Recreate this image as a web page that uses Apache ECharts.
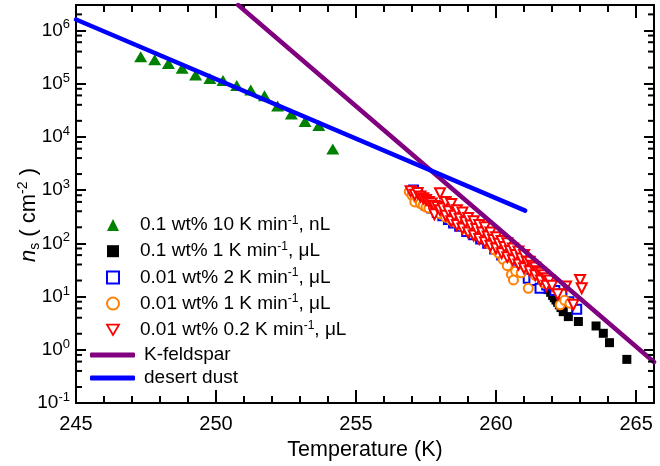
<!DOCTYPE html>
<html><head><meta charset="utf-8">
<script src="https://cdn.jsdelivr.net/npm/echarts@6/dist/echarts.min.js"></script>
<style>html,body{margin:0;padding:0;background:#fff}#c{width:660px;height:466px}</style>
</head><body><div id="c"></div><script>
// axis ranges
const xMin = 245, xMax = 265.64, yMin = 0.1, yMax = 3e6;
const yMinorTicks = [0.2,0.4,0.6,0.8, 2,4,6,8, 20,40,60,80, 200,400,600,800,
  2e3,4e3,6e3,8e3, 2e4,4e4,6e4,8e4, 2e5,4e5,6e5,8e5, 2e6];

// data: [Temperature (K), n_s (cm^-2)]
const nL10K = [[247.31,3.2e5],[247.81,2.8e5],[248.30,2.4e5],[248.79,1.95e5],[249.27,1.46e5],
  [249.78,1.25e5],[250.25,1.14e5],[250.74,9.2e4],[251.24,7.6e4],[251.73,5.9e4],[252.20,3.8e4],
  [252.69,2.7e4],[253.18,1.95e4],[253.67,1.63e4],[254.17,5.9e3]];
const uL1K_01 = [[261.0,35],[261.2,28],[261.4,24],[261.55,21],[261.65,18],[261.75,15.5],[261.85,13.5],
  [261.95,12],[262.02,10.5],[262.08,9.5],[262.14,8.6],[262.2,7.8],[262.26,7.0],[262.32,6.2],[262.40,5.2],
  [262.58,4.2],[262.94,3.4],[263.57,2.8],[263.83,2.04],[264.05,1.36],[264.67,0.66]];
const uL2K = [[257.05,1000],[257.2,820],[257.3,700],[257.5,525],[257.7,460],[257.9,380],[258.1,330],[258.3,280],
  [258.48,240],[258.7,210],[258.95,166],[259.2,145],[259.45,120],[259.7,100],[259.95,78],[260.2,60],
  [260.5,45],[260.68,36.5],[260.85,35],[261.04,29],[261.15,22],[261.35,20],[261.57,14.3],[261.81,16.5],
  [261.93,20.5],[262.1,13],[262.35,11.2],[262.6,8],[262.88,5.8]];
const uL1K = [[256.9,940],[257.0,800],[257.1,600],[257.2,700],[257.3,560],[257.4,520],[257.5,480],[257.6,460],
  [257.8,420],[258.0,360],[258.2,310],[258.4,270],[258.6,240],[258.8,210],[259.0,180],[259.2,160],[259.4,140],
  [259.6,125],[259.8,95],[259.95,75],[260.1,65],[260.25,50],[260.4,38],[260.55,26],[260.62,20.5],
  [260.7,30],[260.9,28],[261.15,14.3],[261.4,25],[261.7,18],[261.95,20],[262.29,7],[262.45,8.5],[262.64,7.5]];
const uL02K = [[256.95,950],[257.1,820],[257.2,880],[257.3,760],[257.4,700],[257.5,650],[257.6,600],
  [257.7,560],[257.8,500],[257.8,350],[257.9,480],[258.0,870],[258.0,420],[258.1,450],[258.2,600],[258.2,330],
  [258.3,400],[258.4,550],[258.4,260],[258.5,330],[258.6,420],[258.6,220],[258.7,290],[258.8,380],
  [258.8,190],[258.9,250],[259.0,300],[259.0,160],[259.1,215],[259.2,260],[259.2,140],[259.3,185],
  [259.4,220],[259.4,120],[259.5,160],[259.6,200],[259.6,105],[259.7,135],[259.8,160],[259.8,90],
  [259.9,115],[260.0,130],[260.0,80],[260.1,98],[260.2,110],[260.2,65],[260.3,85],[260.4,100],[260.4,55],
  [260.5,72],[260.6,80],[260.6,48],[260.7,60],[260.8,70],[260.8,40],[260.9,52],[261.0,60],[261.0,34],
  [261.1,45],[261.2,45],[261.2,30],[261.3,38],[261.4,35],[261.4,25],[261.5,30],[261.6,28],[261.6,20],
  [261.7,25],[261.8,22],[261.8,16],[261.9,20],[262.0,16],[262.2,11],[262.5,15.4],[262.76,7],[263.0,20.5],[263.06,14.3]];
const kFeldspar = [[250.79,3.0e6],[265.64,0.59]];
const desertDust = [[245,1.6e6],[261.04,410]];

const scatterNames = ['0.1 wt% 10 K min-1, nL','0.1 wt% 1 K min-1, μL','0.01 wt% 2 K min-1, μL',
  '0.01 wt% 1 K min-1, μL','0.01 wt% 0.2 K min-1, μL'];
const lineNames = ['K-feldspar','desert dust'];
const colors = {green:'#008000', black:'#000000', blue:'#0000ff', orange:'#ff8000', red:'#ff0000',
  purple:'#800080', dust:'#0000ff'};

const FONT = '"Liberation Sans", Arial, sans-serif';
const chart = echarts.init(document.getElementById('c'), null, {renderer:'canvas'});

function xAxisDef(pos, interval, len, withLabel){
  return {
    type:'value', position:pos, min:xMin, max:xMax, interval:interval,
    axisLine:{show:true, onZero:false, lineStyle:{color:'#000', width:2}},
    axisTick:{show:true, inside:true, length:len, lineStyle:{color:'#000', width:2}},
    splitLine:{show:false},
    axisLabel: withLabel ? {show:true, color:'#000', fontSize:20, fontFamily:FONT, margin:11,
      formatter: v => (Math.abs(v/5 - Math.round(v/5)) < 1e-6 ? String(v) : '')} : {show:false},
    name: withLabel ? 'Temperature (K)' : '', nameLocation:'middle', nameGap:35,
    nameTextStyle:{color:'#000', fontSize:21.5, fontFamily:FONT}
  };
}
function yAxisDef(pos, withLabel){
  return {
    type:'log', logBase:10, position:pos, min:yMin, max:yMax,
    axisLine:{show:true, onZero:false, lineStyle:{color:'#000', width:2}},
    axisTick:{show:true, inside:true, length:10, lineStyle:{color:'#000', width:2}},
    minorTick:{show:false}, splitLine:{show:false},
    axisLabel: withLabel ? {show:true, color:'#000', margin:6, fontFamily:FONT,
      formatter: v => { const e = Math.log10(v); if (Math.abs(e - Math.round(e)) > 0.01) return '';
        return '{b|10}{s|' + Math.round(e) + '}'; },
      rich:{b:{fontSize:19, lineHeight:24, fontFamily:FONT, color:'#000'},
            s:{fontSize:13, lineHeight:12, verticalAlign:'top', fontFamily:FONT, color:'#000'}}} : {show:false},
    name: withLabel ? '{i|n}{sub|s}{t| ( cm}{sup|-2}{t| )}' : '', nameLocation:'middle', nameGap:34,
    nameMoveOverlap:false,
    nameTextStyle:{color:'#000', fontFamily:FONT, padding:[0,22,0,0], rich:{
      i:{fontSize:22, fontStyle:'italic', lineHeight:26, fontFamily:FONT, color:'#000'},
      sub:{fontSize:14, lineHeight:13, verticalAlign:'bottom', fontFamily:FONT, color:'#000'},
      t:{fontSize:22, lineHeight:26, fontFamily:FONT, color:'#000'},
      sup:{fontSize:14, lineHeight:13, verticalAlign:'top', fontFamily:FONT, color:'#000'}}}
  };
}

const legendText = {color:'#000', fontSize:19, fontFamily:FONT, lineHeight:21,
  rich:{sup:{fontSize:12, lineHeight:12, verticalAlign:'top', fontFamily:FONT, color:'#000'},
        g:{width:16, lineHeight:21}, h:{width:4, lineHeight:21}}};

const scatterLegendData = scatterNames.map((n, i) => i === 4
  ? {name:n, icon:'path://M0,0L20,0L10,17.3Z', itemStyle:{color:'#fff', borderColor:colors.red, borderWidth:1.8, opacity:1}}
  : {name:n});

const option = {
  animation:false,
  backgroundColor:'#fff',
  grid:{left:76, right:6, top:5, bottom:63, containLabel:false},
  xAxis:[xAxisDef('bottom',5,13,true), xAxisDef('bottom',1,7,false), xAxisDef('top',5,13,false), xAxisDef('top',1,7,false)],
  yAxis:[yAxisDef('left',true), yAxisDef('right',false)],
  legend:[{
    orient:'vertical', left:106, top:214.5, padding:0, itemGap:5.2, itemWidth:12, itemHeight:12,
    data:scatterLegendData, selectedMode:false, textStyle:legendText,
    formatter: n => '{g|}' + n.replace('min-1', 'min{sup|-1}')
  },{
    orient:'vertical', left:90, top:344.5, padding:0, itemGap:2, itemWidth:45, itemHeight:5,
    icon:'roundRect', data:lineNames, selectedMode:false, textStyle:legendText,
    formatter: n => '{h|}' + n
  }],
  series:[
    {name:scatterNames[0], type:'scatter', data:nL10K, symbol:'triangle', symbolSize:[13,11],
      itemStyle:{color:colors.green, opacity:1}},
    {name:scatterNames[1], type:'scatter', data:uL1K_01, symbol:'rect', symbolSize:9,
      itemStyle:{color:colors.black, opacity:1}},
    {name:scatterNames[2], type:'scatter', data:uL2K, symbol:'emptyRect', symbolSize:9,
      itemStyle:{color:colors.blue, borderWidth:1.8, opacity:1}},
    {name:scatterNames[3], type:'scatter', data:uL1K, symbol:'emptyCircle', symbolSize:9,
      itemStyle:{color:colors.orange, borderWidth:1.8, opacity:1}},
    {name:scatterNames[4], type:'scatter', data:uL02K, symbol:'emptyTriangle', symbolRotate:180, symbolSize:10,
      itemStyle:{color:colors.red, borderWidth:1.8, opacity:1}},
    {name:lineNames[0], type:'line', data:kFeldspar, symbol:'none', showSymbol:false,
      lineStyle:{color:colors.purple, width:4.5, cap:'round'}, itemStyle:{color:colors.purple}},
    {name:lineNames[1], type:'line', data:desertDust, symbol:'none', showSymbol:false,
      lineStyle:{color:colors.dust, width:4.5, cap:'round'}, itemStyle:{color:colors.dust}},
    {name:'minorTicks', type:'custom', silent:true, z:5,
      data: yMinorTicks.map(v => [xMin, v]),
      renderItem: function(params, api){
        const v = api.value(1);
        const p0 = api.coord([xMin, v]), p1 = api.coord([xMax, v]);
        const st = {stroke:'#000', lineWidth:2};
        return {type:'group', children:[
          {type:'line', shape:{x1:p0[0], y1:p0[1], x2:p0[0]+6, y2:p0[1]}, style:st},
          {type:'line', shape:{x1:p1[0]-6, y1:p1[1], x2:p1[0], y2:p1[1]}, style:st}
        ]};
      }}
  ]
};
chart.setOption(option);
</script></body></html>
